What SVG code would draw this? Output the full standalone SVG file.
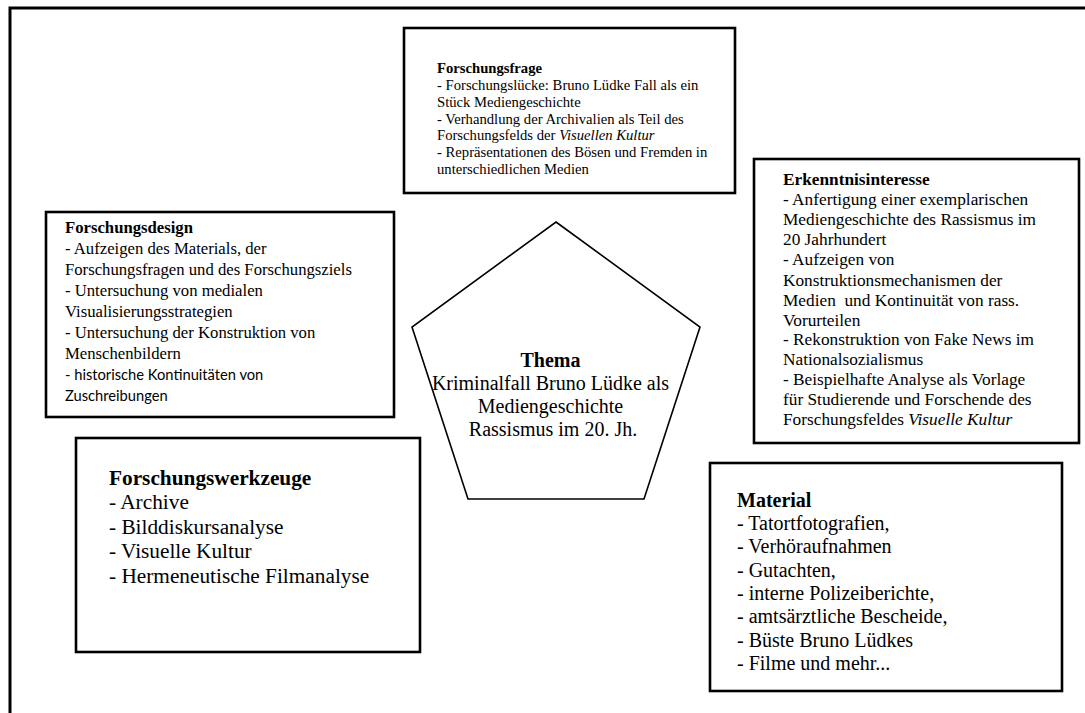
<svg xmlns="http://www.w3.org/2000/svg" width="1085" height="713" viewBox="0 0 1085 713">
<style>
.box{fill:#fff;stroke:#000;stroke-width:2.6}
.t{font-family:"Liberation Serif","Times New Roman",serif;fill:#000}
.c{font-family:Lato,"Open Sans",sans-serif;fill:#000}
.b{font-weight:bold}
.i{font-style:italic}
</style>
<rect width="1085" height="713" fill="#fff"/>
<path d="M10,713 V8 H1085" fill="none" stroke="#000" stroke-width="3"/>
<g id="connectors"/>
<g id="forschungsfrage">
<rect class="box" x="404" y="28" width="331" height="165"/>
<text class="t" font-size="14.67">
<tspan class="b" x="437" y="73">Forschungsfrage</tspan>
<tspan x="437" y="90">- Forschungslücke: Bruno Lüdke Fall als ein</tspan>
<tspan x="437" y="106.8">Stück Mediengeschichte</tspan>
<tspan x="437" y="123.6">- Verhandlung der Archivalien als Teil des</tspan>
<tspan x="437" y="140.4">Forschungsfelds der <tspan class="i">Visuellen Kultur</tspan></tspan>
<tspan x="437" y="157.2">- Repräsentationen des Bösen und Fremden in</tspan>
<tspan x="437" y="174">unterschiedlichen Medien</tspan>
</text>
</g>
<g id="erkenntnisinteresse">
<rect class="box" x="754" y="159" width="325" height="284"/>
<text class="t" font-size="17.3" xml:space="preserve">
<tspan class="b" x="783" y="185">Erkenntnisinteresse</tspan>
<tspan x="783" y="205">- Anfertigung einer exemplarischen</tspan>
<tspan x="783" y="225">Mediengeschichte des Rassismus im</tspan>
<tspan x="783" y="245">20 Jahrhundert</tspan>
<tspan x="783" y="265">- Aufzeigen von</tspan>
<tspan x="783" y="285.5">Konstruktionsmechanismen der</tspan>
<tspan x="783" y="305.5">Medien  und Kontinuität von rass.</tspan>
<tspan x="783" y="325.5">Vorurteilen</tspan>
<tspan x="783" y="345">- Rekonstruktion von Fake News im</tspan>
<tspan x="783" y="365">Nationalsozialismus</tspan>
<tspan x="783" y="385">- Beispielhafte Analyse als Vorlage</tspan>
<tspan x="783" y="405">für Studierende und Forschende des</tspan>
<tspan x="783" y="425">Forschungsfeldes <tspan class="i">Visuelle Kultur</tspan></tspan>
</text>
</g>
<g id="forschungsdesign">
<rect class="box" x="46" y="212" width="348" height="205"/>
<text class="t" font-size="16.7">
<tspan class="b" x="65" y="233">Forschungsdesign</tspan>
<tspan x="65" y="254">- Aufzeigen des Materials, der</tspan>
<tspan x="65" y="275">Forschungsfragen und des Forschungsziels</tspan>
<tspan x="65" y="296">- Untersuchung von medialen</tspan>
<tspan x="65" y="317">Visualisierungsstrategien</tspan>
<tspan x="65" y="338">- Untersuchung der Konstruktion von</tspan>
<tspan x="65" y="359">Menschenbildern</tspan>
</text>
<text class="c" font-size="14.7">
<tspan x="65" y="380">- historische Kontinuitäten von</tspan>
<tspan x="65" y="401">Zuschreibungen</tspan>
</text>
</g>
<g id="thema">
<polygon points="556,222 700,327 644,499 468,499 412,327" fill="#fff" stroke="#000" stroke-width="1.6"/>
<text class="t" font-size="20" text-anchor="middle">
<tspan class="b" x="553" y="367">Thema</tspan>
<tspan x="553" y="390">Kriminalfall Bruno Lüdke als</tspan>
<tspan x="553" y="413">Mediengeschichte</tspan>
<tspan x="553" y="436">Rassismus im 20. Jh.</tspan>
</text>
</g>
<g id="forschungswerkzeuge">
<rect class="box" x="76" y="438" width="344" height="214"/>
<text class="t" font-size="21.3">
<tspan class="b" x="109" y="485">Forschungswerkzeuge</tspan>
<tspan x="109" y="509">- Archive</tspan>
<tspan x="109" y="533.5">- Bilddiskursanalyse</tspan>
<tspan x="109" y="558">- Visuelle Kultur</tspan>
<tspan x="109" y="582.5">- Hermeneutische Filmanalyse</tspan>
</text>
</g>
<g id="material">
<rect class="box" x="710" y="463" width="352" height="228"/>
<text class="t" font-size="20">
<tspan class="b" x="737" y="507">Material</tspan>
<tspan x="737" y="530">- Tatortfotografien,</tspan>
<tspan x="737" y="553.3">- Verhöraufnahmen</tspan>
<tspan x="737" y="576.6">- Gutachten,</tspan>
<tspan x="737" y="599.9">- interne Polizeiberichte,</tspan>
<tspan x="737" y="623.2">- amtsärztliche Bescheide,</tspan>
<tspan x="737" y="646.5">- Büste Bruno Lüdkes</tspan>
<tspan x="737" y="669.8">- Filme und mehr...</tspan>
</text>
</g>
</svg>
